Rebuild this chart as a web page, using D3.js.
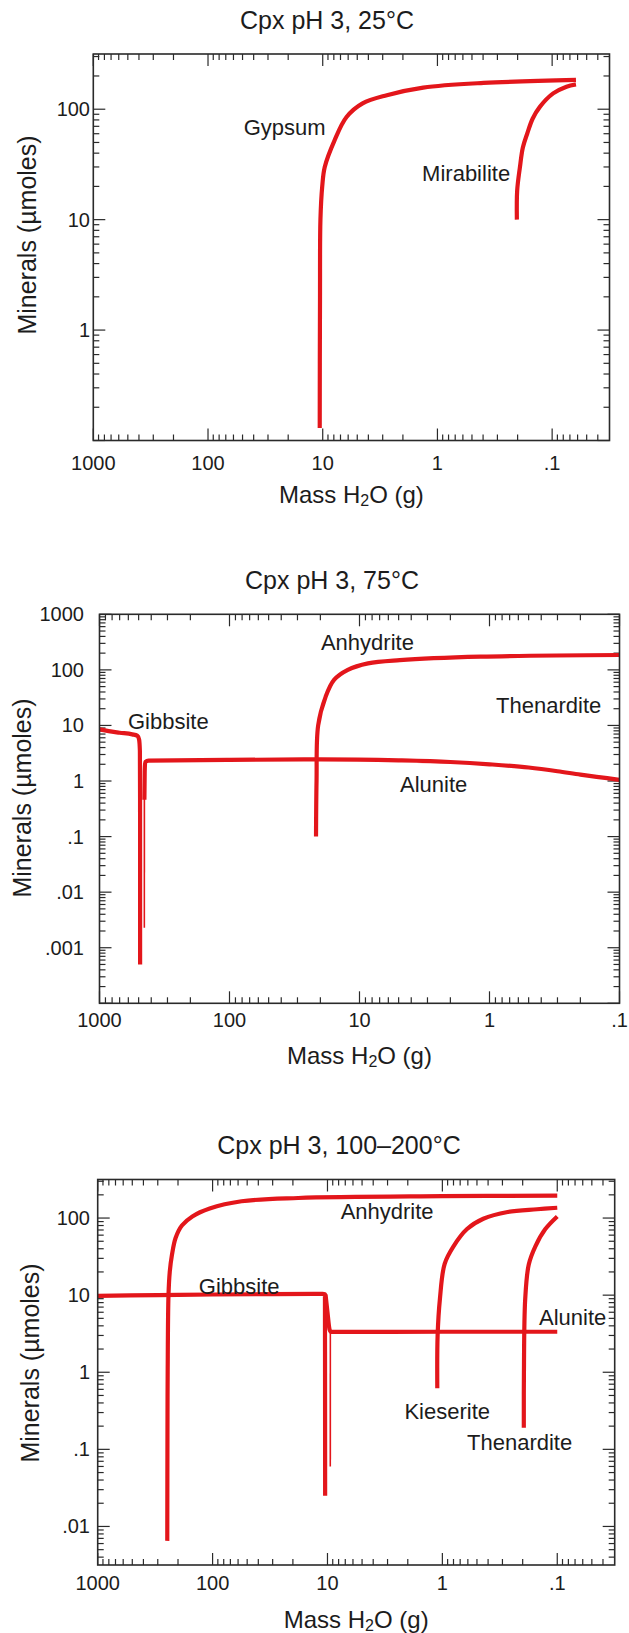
<!DOCTYPE html>
<html>
<head>
<meta charset="utf-8">
<script src="https://cdn.jsdelivr.net/npm/d3@7"></script>
<style>
  body { margin: 0; background: #fff; }
  svg text { font-family: "Liberation Sans", Arial, Helvetica, sans-serif; fill: #1c1c1c; }
</style>
</head>
<body>
<svg id="fig" width="629" height="1633"></svg>
<script>
// Evaporation of a clinopyroxene (Cpx) weathering fluid at pH 3:
// x = mass of water left (g, decreasing to the right), y = minerals precipitated (µmol)

const massTicks = [1000, 100, 10, 1, 0.1];
const massTickLabels = ["1000", "100", "10", "1", ".1"];

// ---- 25 °C ----
const gypsum25 = [[10.62, 0.13], [10.6, 0.5], [10.56, 2], [10.47, 10], [10.1, 20], [9.6, 30],
  [7.9, 52], [6.2, 85], [4.49, 113], [2.76, 134], [1.33, 157], [0.397, 173], [0.062, 184]];
const mirabilite25 = [[0.203, 10], [0.2018, 18.3], [0.191, 29.8], [0.18, 45], [0.165, 60],
  [0.148, 82], [0.128, 105], [0.098, 139], [0.075, 160], [0.062, 168]];
const yTicks25 = [1, 10, 100];
const yTickLabels25 = ["1", "10", "100"];
const labels25 = ["Gypsum", "Mirabilite"];
const labelAt25 = [[9.43, 69], [1.36, 26.4]];

// ---- 75 °C ----
const gibbsite75 = [[1000, 8.5], [850, 7.9], [700, 7.4], [560, 6.9], [510, 6.5], [496, 5.6],
  [489, 3.5], [487.5, 0.5], [487, 0.0005]];
const aluniteOnset75 = [[452, 0.0023], [451.5, 0.5]];
const alunite75 = [[451.5, 0.46], [449, 1.5], [445, 2.2], [420, 2.33], [100, 2.4],
  [20, 2.45], [5, 2.35], [2, 2.2], [1, 2.0], [0.5, 1.75], [0.3, 1.5], [0.2, 1.3], [0.1, 1.05]];
const anhydrite75 = [[21.6, 0.1], [21.4, 1], [20.8, 10], [18.2, 33], [15.7, 66], [12.3, 100],
  [8.6, 131], [4.9, 150], [1.17, 173], [0.1, 185]];
const yTicks75 = [1000, 100, 10, 1, 0.1, 0.01, 0.001];
const yTickLabels75 = ["1000", "100", "10", "1", ".1", ".01", ".001"];
const labels75 = ["Gibbsite", "Anhydrite", "Thenardite", "Alunite"];
const labelAt75 = [[604, 12], [19.8, 305], [0.89, 22.4], [4.88, 0.85]];

// ---- 100–200 °C ----
const anhydrite200 = [[248, 0.0065], [247, 0.2], [246, 1], [242, 10], [236, 20], [226, 33],
  [210, 55], [185, 80], [150, 105], [106, 133], [56, 165], [18, 182], [1, 192], [0.1, 195]];
const gibbsite200 = [[1000, 9.8], [300, 10], [100, 10.2], [30, 10.3], [11, 10.4], [10.52, 10.3],
  [10.5, 1], [10.48, 0.025]];
const aluniteOnset200 = [[9.45, 0.06], [9.44, 3.4]];
const alunite200 = [[10.4, 10.2], [10.0, 6], [9.6, 3.6], [9.3, 3.33], [8, 3.33], [1, 3.35],
  [0.1, 3.35]];
const kieserite200 = [[1.107, 0.62], [1.1, 3], [1.05, 9], [0.955, 25.5], [0.8, 43], [0.61, 72],
  [0.44, 98], [0.27, 120], [0.15, 130], [0.1, 136]];
const thenardite200 = [[0.1955, 0.19], [0.195, 1], [0.19, 9], [0.177, 25], [0.155, 43],
  [0.127, 72], [0.1, 105]];
const yTicks200 = [100, 10, 1, 0.1, 0.01];
const yTickLabels200 = ["100", "10", "1", ".1", ".01"];
const labels200 = ["Anhydrite", "Gibbsite", "Alunite", "Kieserite", "Thenardite"];
const labelAt200 = [[7.68, 123.4], [131.8, 13.1], [0.144, 5.2], [2.14, 0.314], [0.61, 0.124]];

// ---- layout of the three stacked panels ----
// kind: "smooth" growth curves, "step" curves with sharp corners, "onset" hairline nucleation steps
const panels = [
  {
    title: "Cpx pH 3, 25°C", titleX: 327, titleY: 20,
    left: 93.3, right: 609.5, top: 54, bottom: 440.5,
    xDomain: [1000, Math.pow(10, -1.5)], yDomain: [0.1, Math.pow(10, 2.5)],
    yTicks: yTicks25, yTickLabels: yTickLabels25, yLabelRight: 90,
    xLabelY: 463, xTitleY: 494, yTitleX: 27, yTitleY: 235,
    series: [{ pts: gypsum25, kind: "smooth" }, { pts: mirabilite25, kind: "smooth" }],
    labels: labels25, labelAt: labelAt25, labelAnchor: ["end", "start"]
  },
  {
    title: "Cpx pH 3, 75°C", titleX: 332, titleY: 580,
    left: 99.5, right: 619.5, top: 614.3, bottom: 1003.3,
    xDomain: [1000, 0.1], yDomain: [1e-4, 1e3],
    yTicks: yTicks75, yTickLabels: yTickLabels75, yLabelRight: 84,
    xLabelY: 1020, xTitleY: 1055, yTitleX: 22, yTitleY: 798,
    series: [{ pts: gibbsite75, kind: "step" }, { pts: aluniteOnset75, kind: "onset" },
      { pts: alunite75, kind: "step" }, { pts: anhydrite75, kind: "smooth" }],
    labels: labels75, labelAt: labelAt75, labelAnchor: ["start", "start", "start", "start"]
  },
  {
    title: "Cpx pH 3, 100–200°C", titleX: 339, titleY: 1145,
    left: 97.7, right: 614.7, top: 1179.5, bottom: 1565,
    xDomain: [1000, Math.pow(10, -1.5)], yDomain: [Math.pow(10, -2.5), Math.pow(10, 2.5)],
    yTicks: yTicks200, yTickLabels: yTickLabels200, yLabelRight: 90,
    xLabelY: 1583, xTitleY: 1619, yTitleX: 30, yTitleY: 1363,
    series: [{ pts: anhydrite200, kind: "smooth" }, { pts: gibbsite200, kind: "step" },
      { pts: aluniteOnset200, kind: "onset" }, { pts: alunite200, kind: "step" },
      { pts: kieserite200, kind: "smooth" }, { pts: thenardite200, kind: "smooth" }],
    labels: labels200, labelAt: labelAt200, labelAnchor: ["start", "start", "start", "start", "start"]
  }
];

const svg = d3.select("#fig");
const lineColor = "#e3161b";
const axisColor = "#2a2a2a";

// minor + major log ticks lying inside a domain
function logTicks(domain) {
  const lo = Math.min(domain[0], domain[1]), hi = Math.max(domain[0], domain[1]);
  const out = [];
  for (let d = Math.floor(Math.log10(lo)) - 1; d <= Math.ceil(Math.log10(hi)); d++) {
    for (let k = 1; k <= 9; k++) {
      const v = k * Math.pow(10, d);
      if (v >= lo * 0.999 && v <= hi * 1.001) out.push({ v, major: k === 1 });
    }
  }
  return out;
}

panels.forEach((p, i) => {
  const x = d3.scaleLog().domain(p.xDomain).range([p.left, p.right]);
  const y = d3.scaleLog().domain(p.yDomain).range([p.bottom, p.top]);
  const g = svg.append("g");

  const clipId = "plot-clip-" + i;
  g.append("clipPath").attr("id", clipId)
    .append("rect").attr("x", p.left).attr("y", p.top)
    .attr("width", p.right - p.left).attr("height", p.bottom - p.top);

  // inward ticks on all four sides
  const majorLen = 12, minorLen = 6;
  const tg = g.append("g").attr("stroke", axisColor).attr("stroke-width", 1.2);
  logTicks(p.xDomain).forEach(t => {
    const px = x(t.v), L = t.major ? majorLen : minorLen;
    tg.append("line").attr("x1", px).attr("x2", px).attr("y1", p.bottom).attr("y2", p.bottom - L);
    tg.append("line").attr("x1", px).attr("x2", px).attr("y1", p.top).attr("y2", p.top + L);
  });
  logTicks(p.yDomain).forEach(t => {
    const py = y(t.v), L = t.major ? majorLen : minorLen;
    tg.append("line").attr("y1", py).attr("y2", py).attr("x1", p.left).attr("x2", p.left + L);
    tg.append("line").attr("y1", py).attr("y2", py).attr("x1", p.right).attr("x2", p.right - L);
  });

  // series
  const smooth = d3.line().x(d => x(d[0])).y(d => y(d[1])).curve(d3.curveCatmullRom.alpha(0.5));
  const step = d3.line().x(d => x(d[0])).y(d => y(d[1])).curve(d3.curveMonotoneX);
  const sg = g.append("g").attr("clip-path", `url(#${clipId})`)
    .attr("fill", "none").attr("stroke", lineColor)
    .attr("stroke-linejoin", "round");
  p.series.forEach(s => {
    sg.append("path")
      .attr("d", s.kind === "smooth" ? smooth(s.pts) : step(s.pts))
      .attr("stroke-width", s.kind === "onset" ? 1.6 : 4.2);
  });

  // frame
  g.append("rect")
    .attr("x", p.left).attr("y", p.top)
    .attr("width", p.right - p.left).attr("height", p.bottom - p.top)
    .attr("fill", "none").attr("stroke", axisColor).attr("stroke-width", 1.6);

  // tick labels
  g.append("g").selectAll("text").data(massTicks).join("text")
    .attr("x", d => x(d)).attr("y", p.xLabelY)
    .attr("text-anchor", "middle").attr("dominant-baseline", "central")
    .attr("font-size", 20)
    .text((d, j) => massTickLabels[j]);
  g.append("g").selectAll("text").data(p.yTicks).join("text")
    .attr("x", p.yLabelRight).attr("y", d => y(d))
    .attr("text-anchor", "end").attr("dominant-baseline", "central")
    .attr("font-size", 20)
    .text((d, j) => p.yTickLabels[j]);

  // mineral names
  g.append("g").selectAll("text").data(p.labelAt).join("text")
    .attr("x", d => x(d[0])).attr("y", d => y(d[1]))
    .attr("text-anchor", (d, j) => p.labelAnchor[j])
    .attr("dominant-baseline", "central")
    .attr("font-size", 22)
    .text((d, j) => p.labels[j]);

  // titles
  g.append("text").attr("x", p.titleX).attr("y", p.titleY)
    .attr("text-anchor", "middle").attr("dominant-baseline", "central")
    .attr("font-size", 25).text(p.title);

  g.append("text")
    .attr("transform", `translate(${p.yTitleX},${p.yTitleY}) rotate(-90)`)
    .attr("text-anchor", "middle").attr("dominant-baseline", "central")
    .attr("font-size", 25).text("Minerals (µmoles)");

  const xt = g.append("text")
    .attr("x", (p.left + p.right) / 2).attr("y", p.xTitleY)
    .attr("text-anchor", "middle").attr("dominant-baseline", "central")
    .attr("font-size", 24);
  xt.append("tspan").text("Mass H");
  xt.append("tspan").attr("font-size", 16).attr("dy", 6).text("2");
  xt.append("tspan").attr("dy", -6).text("O (g)");
});
</script>
</body>
</html>
